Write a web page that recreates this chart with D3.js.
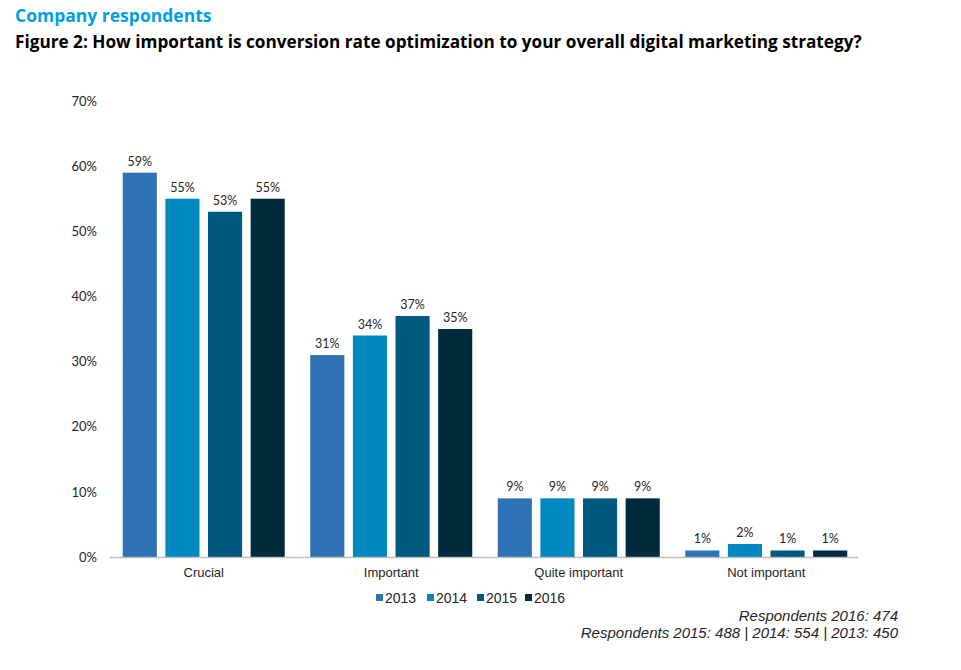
<!DOCTYPE html>
<html>
<head>
<meta charset="utf-8">
<script src="https://cdn.jsdelivr.net/npm/d3@7"></script>
<style>
  body { margin: 0; background: #fff; }
</style>
</head>
<body>
<div id="canvas"></div>
<script>
// Data
const categories = ['Crucial', 'Important', 'Quite important', 'Not important']
const years = ['2013', '2014', '2015', '2016']
const values2013 = [59, 31, 9, 1]
const values2014 = [55, 34, 9, 2]
const values2015 = [53, 37, 9, 1]
const values2016 = [55, 35, 9, 1]
const yTicks = [0, 10, 20, 30, 40, 50, 60, 70]
const footLines = ['Respondents 2016: 474', 'Respondents 2015: 488 | 2014: 554 | 2013: 450']

const colors = {
	'2013': '#2e74b5',
	'2014': '#0088c0',
	'2015': '#005a7f',
	'2016': '#002b3f',
	axis: '#bfbfbf',
	title: '#00a0e2',
}
const seriesByYear = {'2013': values2013, '2014': values2014, '2015': values2015, '2016': values2016}

const width = 961, height = 670
const svg = d3.select('#canvas').append('svg').attr('width', width).attr('height', height)

const x = d3.scaleBand().domain(categories).range([110, 860]).paddingInner(0.136).paddingOuter(0.068)
const xInner = d3.scaleBand().domain(years).range([0, x.bandwidth()]).paddingInner(0.2)
const y = d3.scaleLinear().domain([0, 70]).range([557, 101])

// Titles
svg.append('text').attr('x', 15).attr('y', 22)
	.attr('font-family', 'Open Sans, sans-serif').attr('font-weight', 'bold').attr('font-size', 17.5)
	.attr('fill', colors.title).text('Company respondents')
svg.append('text').attr('x', 15).attr('y', 48)
	.attr('font-family', 'Open Sans, sans-serif').attr('font-weight', 'bold').attr('font-size', 17.2)
	.attr('fill', '#000').text('Figure 2: How important is conversion rate optimization to your overall digital marketing strategy?')

// Y axis labels (no line)
const yAxis = d3.axisLeft(y).tickValues(yTicks).tickFormat(d => d + '%').tickSize(0).tickPadding(0)
const yg = svg.append('g').attr('transform', 'translate(97,0)').call(yAxis)
yg.select('.domain').remove()
yg.selectAll('text').attr('font-family', 'Lato, sans-serif').attr('font-size', 13).attr('fill', '#262626')

// Bars
const groups = svg.selectAll('.cat-group')
	.data(categories).enter()
	.append('g')
	.classed('cat-group', true)
	.attr('transform', d => `translate(${x(d)},0)`)

const barData = (cat, i) => years.map(yr => ({year: yr, value: seriesByYear[yr][i]}))

groups.selectAll('rect')
	.data(barData).enter()
	.append('rect')
	.attr('x', d => xInner(d.year))
	.attr('width', xInner.bandwidth())
	.attr('y', d => y(d.value))
	.attr('height', d => y(0) - y(d.value))
	.attr('fill', d => colors[d.year])

groups.selectAll('.bar-label')
	.data(barData).enter()
	.append('text')
	.classed('bar-label', true)
	.attr('x', d => xInner(d.year) + xInner.bandwidth() / 2)
	.attr('y', d => y(d.value) - 7)
	.attr('text-anchor', 'middle')
	.attr('font-family', 'Lato, sans-serif').attr('font-size', 12.5).attr('fill', '#262626')
	.text(d => d.value + '%')

// X axis
const xAxis = d3.axisBottom(x).tickSize(0).tickPadding(11)
const xg = svg.append('g').attr('transform', `translate(0,${y(0)})`).call(xAxis)
xg.select('.domain').attr('stroke', colors.axis).attr('stroke-width', 1.5).attr('d', 'M110,0.5H858')
xg.selectAll('text').attr('font-family', 'Liberation Sans, Arial, sans-serif').attr('font-size', 13).attr('fill', '#262626')

// Legend
const legendX = [376, 427, 477, 525]
const legend = svg.selectAll('.legend-item')
	.data(years).enter()
	.append('g')
	.classed('legend-item', true)
	.attr('transform', (d, i) => `translate(${legendX[i]},603)`)
legend.append('rect').attr('x', 0).attr('y', -9).attr('width', 7).attr('height', 7).attr('fill', d => colors[d])
legend.append('text').attr('x', 9).attr('y', 0)
	.attr('font-family', 'Liberation Sans, Arial, sans-serif').attr('font-size', 14).attr('fill', '#262626')
	.text(d => d)

// Footnote
svg.selectAll('.foot')
	.data(footLines).enter()
	.append('text')
	.classed('foot', true)
	.attr('x', 898)
	.attr('y', (d, i) => 621 + i * 17)
	.attr('text-anchor', 'end')
	.attr('font-family', 'Liberation Sans, Arial, sans-serif').attr('font-style', 'italic').attr('font-size', 15)
	.attr('fill', '#262626')
	.text(d => d)
</script>
</body>
</html>
